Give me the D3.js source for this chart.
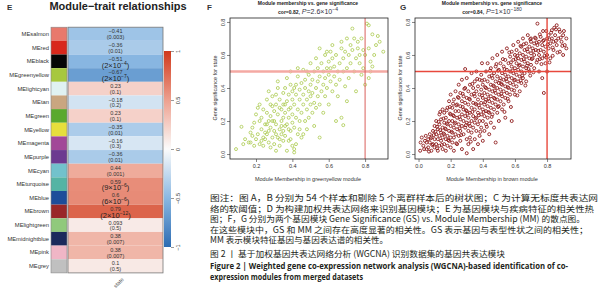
<!DOCTYPE html>
<html>
<head>
<meta charset="utf-8">
<script src="https://cdn.jsdelivr.net/npm/d3@7"></script>
<style>
  body { margin: 0; background: #fff; }
  svg { display: block; }
</style>
</head>
<body>
<svg id="chart" width="605" height="300"></svg>
<script>
// Panel E: module-trait heatmap
const modules = ["MEsalmon", "MEred", "MEblack", "MEgreenyellow", "MElightcyan", "MEtan", "MEgreen",
  "MEyellow", "MEmagenta", "MEpurple", "MEcyan", "MEturquoise", "MEblue", "MEbrown", "MElightgreen",
  "MEmidnightblue", "MEpink", "MEgrey"];
const moduleColors = ["#e8796c", "#d8281c", "#050505", "#a7c83f", "#e0f2f2", "#c9a680", "#5aa92e",
  "#e6df3c", "#a24898", "#6c3a90", "#72c2cc", "#55b4a4", "#1d4d9a", "#992828", "#90c97c",
  "#1b2a5c", "#f0b6c6", "#c0c0c0"];
const corValues = [-0.41, -0.36, -0.51, -0.67, 0.23, -0.18, 0.23, -0.35, -0.16, -0.36, 0.44, 0.59, 0.6,
  0.79, 0.093, 0.38, 0.38, 0.1];
const pValues = ["0.003", "0.01", "2×10^-4", "2×10^-7", "0.1", "0.2", "0.1", "0.01", "0.3", "0.01",
  "0.001", "9×10^-6", "6×10^-6", "2×10^-12", "0.5", "0.007", "0.007", "0.5"];
const legendTicks = [1, 0.5, 0, -0.5, -1];

// Panels F, G: module membership vs gene significance
const fPoints = [
  [0.09,0.03],[0.12,0.165],[0.13,0.06],[0.14,0.09],
  [0.16,0.07],[0.17,0.07],[0.18,0.11],[0.19,0.19],[0.17,0.13],[0.19,0.05],[0.2,0.09],[0.18,0.16],[0.2,0.24],
  [0.21,0.12],[0.22,0.06],[0.22,0.2],[0.23,0.15],[0.23,0.08],[0.24,0.27],[0.24,0.1],[0.25,0.18],[0.21,0.28],
  [0.22,0.3],[0.25,0.13],[0.23,0.22],[0.24,0.05],[0.25,0.09],
  [0.26,0.25],[0.26,0.12],[0.27,0.2],[0.27,0.07],[0.28,0.16],[0.28,0.3],[0.29,0.2],[0.29,0.1],[0.3,0.14],
  [0.3,0.26],[0.26,0.33],[0.27,0.38],[0.28,0.04],[0.29,0.35],[0.3,0.06],[0.26,0.18],[0.28,0.23],[0.29,0.29],
  [0.3,0.2],[0.27,0.14],
  [0.31,0.02],[0.31,0.18],[0.31,0.3],[0.32,0.1],[0.32,0.24],[0.32,0.4],[0.33,0.15],[0.33,0.33],[0.33,0.05],
  [0.34,0.2],[0.34,0.27],[0.34,0.12],[0.35,0.37],[0.35,0.08],[0.35,0.22],[0.31,0.36],[0.32,0.44],[0.33,0.28],
  [0.34,0.17],[0.35,0.3],[0.31,0.12],[0.33,0.09],[0.35,0.14],
  [0.36,0.25],[0.36,0.4],[0.36,0.11],[0.37,0.18],[0.37,0.32],[0.37,0.46],[0.38,0.22],[0.38,0.08],[0.38,0.36],
  [0.39,0.14],[0.39,0.28],[0.39,0.42],[0.4,0.19],[0.4,0.33],[0.4,0.05],[0.36,0.3],[0.37,0.02],[0.38,0.27],
  [0.39,0.5],[0.4,0.24],[0.4,0.38],[0.36,0.17],[0.38,0.15],[0.39,0.09],
  [0.41,0.01],[0.41,0.03],[0.41,0.16],[0.41,0.3],[0.42,0.42],[0.42,0.22],[0.42,0.36],[0.43,0.12],[0.43,0.27],
  [0.43,0.47],[0.44,0.33],[0.44,0.2],[0.44,0.39],[0.45,0.25],[0.45,0.43],[0.45,0.1],[0.42,0.06],[0.43,0.52],
  [0.44,0.15],[0.41,0.4],
  [0.46,0.3],[0.46,0.51],[0.46,0.36],[0.47,0.2],[0.47,0.4],[0.47,0.45],[0.48,0.33],[0.48,0.27],[0.48,0.15],
  [0.49,0.38],[0.49,0.48],[0.49,0.22],[0.5,0.3],[0.5,0.42],[0.5,0.55],[0.46,0.12],[0.48,0.5],[0.5,0.35],
  [0.51,0.25],[0.51,0.45],[0.51,0.37],[0.52,0.17],[0.52,0.5],[0.52,0.31],[0.53,0.4],[0.53,0.58],[0.53,0.28],
  [0.54,0.44],[0.54,0.35],[0.54,0.52],[0.55,0.1],[0.55,0.64],[0.55,0.47],[0.55,0.3],
  [0.56,0.38],[0.56,0.55],[0.57,0.42],[0.57,0.5],[0.57,0.25],[0.58,0.46],[0.58,0.6],[0.58,0.35],[0.59,0.62],
  [0.59,0.52],[0.59,0.4],[0.6,0.48],[0.6,0.3],[0.6,0.56],
  [0.61,0.44],[0.61,0.52],[0.62,0.38],[0.62,0.58],[0.62,0.66],[0.63,0.47],[0.63,0.53],[0.64,0.2],[0.64,0.42],
  [0.64,0.6],[0.65,0.5],[0.65,0.35],[0.61,0.62],
  [0.66,0.55],[0.66,0.45],[0.67,0.22],[0.67,0.64],[0.67,0.68],[0.68,0.175],[0.68,0.5],[0.68,0.58],[0.69,0.41],
  [0.69,0.62],[0.7,0.7],[0.7,0.52],[0.7,0.32],
  [0.71,0.6],[0.71,0.46],[0.72,0.66],[0.72,0.55],[0.73,0.76],[0.73,0.63],[0.74,0.5],[0.74,0.7],[0.75,0.58],
  [0.75,0.38],
  [0.76,0.64],[0.76,0.68],[0.77,0.55],[0.77,0.6],[0.78,0.48],[0.78,0.7],[0.79,0.52],[0.79,0.63],[0.8,0.42],
  [0.8,0.6],
  [0.81,0.79],[0.82,0.78],[0.82,0.64],[0.83,0.5],[0.83,0.56],[0.84,0.725],[0.85,0.6],[0.86,0.66],[0.87,0.715],
  [0.88,0.68],[0.9,0.62],[0.82,0.46],[0.84,0.53]
];
const gPoints = [
  [0.01,0.02],[0.013,0.07],[0.02,0.1],[0.03,0.05],[0.04,0.08],[0.05,0.03],[0.05,0.07],
  [0.06,0.09],[0.06,0.04],[0.07,0.07],[0.07,0.12],[0.08,0.02],[0.08,0.1],[0.09,0.06],[0.09,0.14],[0.1,0.04],
  [0.1,0.09],[0.1,0.17],
  [0.11,0.12],[0.11,0.06],[0.11,0.2],[0.12,0.02],[0.12,0.09],[0.12,0.15],[0.13,0.11],[0.13,0.05],[0.13,0.18],
  [0.13,0.24],[0.14,0.08],[0.14,0.13],[0.14,0.21],[0.15,0.03],[0.15,0.1],[0.15,0.16],[0.15,0.27],
  [0.16,0.06],[0.16,0.12],[0.16,0.19],[0.16,0.25],[0.17,0.09],[0.17,0.15],[0.17,0.22],[0.17,0.02],[0.18,0.11],
  [0.18,0.18],[0.18,0.28],[0.18,0.05],[0.19,0.14],[0.19,0.2],[0.19,0.32],[0.19,0.08],[0.2,0.1],[0.2,0.17],
  [0.2,0.24],[0.2,0.36],[0.2,0.04],
  [0.21,0.13],[0.21,0.2],[0.21,0.28],[0.21,0.07],[0.22,0.16],[0.22,0.23],[0.22,0.33],[0.22,0.1],[0.22,0.02],
  [0.23,0.19],[0.23,0.26],[0.23,0.12],[0.23,0.38],[0.24,0.15],[0.24,0.22],[0.24,0.3],[0.24,0.06],[0.25,0.18],
  [0.25,0.26],[0.25,0.34],[0.25,0.11],[0.25,0.42],
  [0.26,0.14],[0.26,0.21],[0.26,0.29],[0.26,0.08],[0.26,0.37],[0.27,0.17],[0.27,0.24],[0.27,0.32],[0.27,0.03],
  [0.27,0.45],[0.28,0.12],[0.28,0.2],[0.28,0.27],[0.28,0.35],[0.29,0.16],[0.29,0.23],[0.29,0.31],[0.29,0.515],
  [0.29,0.4],[0.3,0.005],[0.3,0.09],[0.3,0.19],[0.3,0.26],[0.3,0.34],[0.3,0.46],
  [0.31,0.14],[0.31,0.22],[0.31,0.3],[0.31,0.38],[0.31,0.06],[0.32,0.17],[0.32,0.25],[0.32,0.33],[0.32,0.42],
  [0.32,0.1],[0.33,0.2],[0.33,0.28],[0.33,0.36],[0.33,0.49],[0.33,0.13],[0.34,0.23],[0.34,0.31],[0.34,0.4],
  [0.34,0.16],[0.34,0.03],[0.35,0.19],[0.35,0.27],[0.35,0.35],[0.35,0.44],[0.35,0.09],
  [0.36,0.22],[0.36,0.3],[0.36,0.38],[0.36,0.14],[0.36,0.5],[0.37,0.25],[0.37,0.33],[0.37,0.41],[0.37,0.18],
  [0.37,0.06],[0.38,0.2],[0.38,0.28],[0.38,0.36],[0.38,0.45],[0.38,0.11],[0.39,0.24],[0.39,0.31],[0.39,0.39],
  [0.39,0.48],[0.39,0.16],[0.395,0.55],[0.4,0.27],[0.4,0.34],[0.4,0.42],[0.4,0.2],[0.4,0.08],
  [0.41,0.3],[0.41,0.37],[0.41,0.45],[0.41,0.23],[0.41,0.14],[0.42,0.26],[0.42,0.33],[0.42,0.4],[0.42,0.5],
  [0.42,0.18],[0.43,0.29],[0.43,0.36],[0.43,0.44],[0.43,0.22],[0.43,0.55],[0.44,0.32],[0.44,0.39],[0.44,0.47],
  [0.44,0.25],[0.44,0.12],[0.45,0.28],[0.45,0.35],[0.45,0.42],[0.45,0.52],[0.45,0.19],
  [0.46,0.31],[0.46,0.38],[0.46,0.46],[0.46,0.24],[0.46,0.58],[0.47,0.34],[0.47,0.41],[0.47,0.49],[0.47,0.27],
  [0.47,0.16],[0.48,0.07],[0.48,0.3],[0.48,0.37],[0.48,0.44],[0.48,0.53],[0.49,0.33],[0.49,0.4],[0.49,0.47],
  [0.49,0.25],[0.49,0.6],[0.5,0.36],[0.5,0.43],[0.5,0.51],[0.5,0.29],[0.5,0.2],
  [0.51,0.39],[0.51,0.46],[0.51,0.55],[0.51,0.32],[0.52,0.35],[0.52,0.42],[0.52,0.49],[0.52,0.62],[0.52,0.27],
  [0.53,0.38],[0.53,0.45],[0.53,0.53],[0.53,0.3],[0.54,0.41],[0.54,0.48],[0.54,0.57],[0.54,0.34],[0.54,0.22],
  [0.55,0.44],[0.55,0.51],[0.55,0.64],[0.55,0.37],
  [0.56,0.4],[0.56,0.47],[0.56,0.55],[0.56,0.32],[0.57,0.43],[0.57,0.5],[0.57,0.59],[0.57,0.36],[0.58,0.2],
  [0.58,0.46],[0.58,0.53],[0.58,0.62],[0.58,0.39],[0.59,0.42],[0.59,0.49],[0.59,0.57],[0.59,0.66],[0.6,0.45],
  [0.6,0.52],[0.6,0.6],[0.6,0.36],
  [0.61,0.48],[0.61,0.55],[0.61,0.63],[0.61,0.41],[0.62,0.44],[0.62,0.51],[0.62,0.58],[0.62,0.68],[0.63,0.47],
  [0.63,0.54],[0.63,0.61],[0.63,0.38],[0.64,0.5],[0.64,0.57],[0.64,0.65],[0.64,0.43],[0.65,0.53],[0.65,0.6],
  [0.65,0.7],[0.65,0.46],
  [0.66,0.56],[0.66,0.63],[0.66,0.49],[0.67,0.52],[0.67,0.59],[0.67,0.67],[0.67,0.44],[0.68,0.55],[0.68,0.62],
  [0.68,0.72],[0.69,0.58],[0.69,0.65],[0.69,0.5],[0.7,0.61],[0.7,0.68],[0.7,0.7],[0.7,0.54],
  [0.71,0.58],[0.71,0.64],[0.72,0.6],[0.72,0.67],[0.72,0.52],[0.73,0.63],[0.73,0.7],[0.74,0.79],[0.74,0.57],
  [0.74,0.66],[0.75,0.6],[0.75,0.68],[0.75,0.5],
  [0.76,0.63],[0.76,0.71],[0.77,0.58],[0.77,0.66],[0.77,0.46],[0.78,0.37],[0.78,0.62],[0.78,0.69],[0.79,0.55],
  [0.79,0.65],[0.8,0.6],[0.8,0.7],[0.8,0.5],
  [0.81,0.64],[0.81,0.72],[0.82,0.67],[0.82,0.58],[0.83,0.7],[0.83,0.75],[0.84,0.63],[0.84,0.68],[0.85,0.72],
  [0.86,0.78],[0.86,0.66],[0.87,0.7],[0.88,0.74],[0.88,0.62],[0.89,0.68],[0.9,0.72],[0.91,0.66],[0.92,0.7],
  [0.92,0.64],[0.9,0.6],
  // second pass: points between the first-pass ones
  [0.035,0.03],[0.045,0.11],[0.065,0.015],[0.075,0.095],[0.085,0.055],[0.095,0.115],[0.105,0.135],
  [0.115,0.035],[0.125,0.195],[0.135,0.145],[0.145,0.055],[0.155,0.215],[0.165,0.155],[0.175,0.265],
  [0.185,0.085],[0.195,0.245],[0.205,0.135],[0.215,0.305],[0.225,0.185],[0.235,0.065],[0.245,0.345],
  [0.255,0.225],[0.265,0.115],[0.275,0.285],[0.285,0.395],[0.295,0.175],[0.305,0.245],[0.315,0.335],
  [0.325,0.075],[0.335,0.255],[0.345,0.365],[0.355,0.215],[0.365,0.455],[0.375,0.295],[0.385,0.135],
  [0.395,0.355],[0.405,0.255],[0.415,0.405],[0.425,0.165],[0.435,0.335],[0.445,0.505],[0.455,0.225],
  [0.465,0.415],[0.475,0.335],[0.485,0.545],[0.495,0.285],[0.505,0.445],[0.515,0.365],[0.525,0.575],
  [0.535,0.255],[0.545,0.455],[0.555,0.405],[0.565,0.615],[0.575,0.285],[0.585,0.505],[0.595,0.445],
  [0.605,0.575],[0.615,0.355],[0.625,0.535],[0.635,0.655],[0.645,0.475],[0.655,0.575],[0.665,0.415],
  [0.675,0.635],[0.685,0.515],[0.695,0.695],[0.705,0.575],[0.715,0.495],[0.725,0.705],[0.735,0.555],
  [0.745,0.625],[0.755,0.725],[0.765,0.545],[0.775,0.685],[0.785,0.595],[0.795,0.745],[0.805,0.665],
  [0.815,0.555],[0.825,0.735],[0.835,0.645],[0.845,0.765],[0.855,0.685],[0.865,0.615],[0.875,0.755],
  [0.885,0.705],[0.895,0.655],[0.905,0.745],
  [0.115,0.165],[0.135,0.255],[0.155,0.125],[0.175,0.185],[0.195,0.285],[0.215,0.235],[0.235,0.295],
  [0.255,0.155],[0.275,0.365],[0.295,0.265],[0.315,0.185],[0.335,0.425],[0.355,0.305],[0.375,0.235],
  [0.395,0.445],[0.415,0.315],[0.435,0.255],[0.455,0.475],[0.475,0.385],[0.495,0.505],[0.515,0.425],
  [0.535,0.515],[0.555,0.335],[0.575,0.555],[0.595,0.385],[0.615,0.595],[0.635,0.445],[0.655,0.665],
  [0.675,0.535],[0.695,0.475],[0.715,0.625],[0.735,0.675],[0.755,0.575],[0.775,0.745],[0.795,0.585],
  [0.815,0.695],[0.835,0.595],[0.855,0.755]
];
const yTicks = [0, 0.2, 0.4, 0.6, 0.8];
const fXTicks = [0.2, 0.4, 0.6, 0.8];
const gXTicks = [0, 0.2, 0.4, 0.6, 0.8];

const captionLines = [
  "图注：图 A，B 分别为 54 个样本和剔除 5 个离群样本后的树状图；C 为计算无标度共表达网",
  "络的软阈值；D 为构建加权共表达网络来识别基因模块；E 为基因模块与疾病特征的相关性热",
  "图；F，G 分别为两个基因模块 Gene Significance (GS) vs. Module Membership (MM) 的散点图。",
  "在这些模块中，GS 和 MM 之间存在高度显著的相关性。GS 表示基因与表型性状之间的相关性；",
  "MM 表示模块特征基因与基因表达谱的相关性。",
  "图 2 丨 基于加权基因共表达网络分析 (WGCNA) 识别数据集的基因共表达模块"
];
const figureLines = [
  "Figure 2  |   Weighted gene co-expression network analysis (WGCNA)-based identification of co-",
  "expression modules from merged datasets"
];

const svg = d3.select("#chart");
const sans = "'Liberation Sans', Arial, sans-serif";
const cjk = "'Noto Sans CJK SC', sans-serif";

// ---------- Panel E ----------
const color = d3.scaleLinear()
  .domain([-1, -0.5, 0, 0.5, 1])
  .range(["#2c6cb3", "#8ab8e2", "#fbfbfb", "#eda08e", "#d0391b"]);

const row = d3.scaleBand().domain(modules).range([27.2, 272.9]);
const E = svg.append("g").style("font-family", sans);

E.append("text").attr("x", 7).attr("y", 10).style("font-size", "8px").style("font-weight", "bold")
  .attr("fill", "#333").text("E");
E.append("text").attr("x", 118).attr("y", 9.5).attr("text-anchor", "middle")
  .style("font-size", "11px").style("font-weight", "bold").attr("fill", "#222")
  .text("Module\u2212trait relationships");

// module colour strip
E.selectAll("rect.mod").data(modules).join("rect").attr("class", "mod")
  .attr("x", 51).attr("y", d => row(d)).attr("width", 16).attr("height", row.bandwidth())
  .attr("fill", (d, i) => moduleColors[i]);
E.append("rect").attr("x", 51).attr("y", row.range()[0]).attr("width", 16)
  .attr("height", row.range()[1] - row.range()[0]).attr("fill", "none").attr("stroke", "#888").attr("stroke-width", 0.6);

// heatmap cells
E.selectAll("rect.cell").data(modules).join("rect").attr("class", "cell")
  .attr("x", 68).attr("y", d => row(d)).attr("width", 95).attr("height", row.bandwidth())
  .attr("fill", (d, i) => color(corValues[i]));
E.append("rect").attr("x", 68).attr("y", row.range()[0]).attr("width", 95)
  .attr("height", row.range()[1] - row.range()[0]).attr("fill", "none").attr("stroke", "#777").attr("stroke-width", 0.8);

// row labels
E.selectAll("text.lab").data(modules).join("text").attr("class", "lab")
  .attr("x", 49).attr("y", d => row(d) + row.bandwidth() / 2 + 2)
  .attr("text-anchor", "end").style("font-size", "5.8px").attr("fill", "#333").text(d => d);

// cell text
const fmt = v => (v < 0 ? "\u2212" : "") + Math.abs(v);
modules.forEach((m, i) => {
  const cy = row(m) + row.bandwidth() / 2;
  E.append("text").attr("x", 115.5).attr("y", cy - 0.6).attr("text-anchor", "middle")
    .style("font-size", "5.5px").attr("fill", "#333").text(fmt(corValues[i]));
  const p = pValues[i];
  if (p.includes("^")) {
    const [base, exp] = p.split("^");
    const t = E.append("text").attr("x", 115.5).attr("y", cy + 6.2).attr("text-anchor", "middle")
      .style("font-size", "7.5px").attr("fill", "#222");
    t.append("tspan").text("(" + base);
    t.append("tspan").attr("dy", -3).style("font-size", "5px").text(exp.replace("-", "\u2212"));
    t.append("tspan").attr("dy", 3).text(")");
  } else {
    E.append("text").attr("x", 115.5).attr("y", cy + 5.2).attr("text-anchor", "middle")
      .style("font-size", "5.5px").attr("fill", "#333").text("(" + p + ")");
  }
});

// x label
E.append("text").attr("transform", "translate(120,284) rotate(-45)").attr("text-anchor", "middle")
  .style("font-size", "5.5px").attr("fill", "#555").text("state");

// colour legend
const defs = svg.append("defs");
const grad = defs.append("linearGradient").attr("id", "cbar").attr("x1", 0).attr("y1", 0).attr("x2", 0).attr("y2", 1);
d3.range(0, 1.0001, 0.05).forEach(t => {
  grad.append("stop").attr("offset", t).attr("stop-color", color(1 - 2 * t));
});
const ly = d3.scaleLinear().domain([1, -1]).range([51, 247]);
E.append("rect").attr("x", 164).attr("y", ly(1)).attr("width", 7).attr("height", ly(-1) - ly(1))
  .attr("fill", "url(#cbar)");
E.append("g").attr("transform", "translate(171,0)")
  .call(d3.axisRight(ly).tickValues(legendTicks).tickSize(3).tickFormat(d => fmt(d)))
  .call(a => {
    a.select(".domain").remove();
    a.selectAll("line").attr("stroke", "#555").attr("stroke-width", 0.6);
    a.selectAll("text").attr("x", 0).attr("y", 0).attr("dy", 0)
      .attr("transform", "translate(9,0) rotate(-90)").attr("text-anchor", "middle")
      .style("font-size", "5.5px").style("font-family", sans).attr("fill", "#333");
  });

// ---------- Panels F & G ----------
function scatterPanel(opt) {
  const g = svg.append("g").style("font-family", sans);
  const x = d3.scaleLinear().domain(opt.xDomain).range([opt.left, opt.right]);
  const y = d3.scaleLinear().domain([-0.03, 0.824]).range([159, 18]);

  g.append("text").attr("x", opt.tagX).attr("y", 10).style("font-size", "8px").style("font-weight", "bold")
    .attr("fill", "#333").text(opt.tag);

  const cx = (opt.left + opt.right) / 2 - 1;
  g.append("text").attr("x", cx).attr("y", 5).attr("text-anchor", "middle")
    .style("font-size", "5px").style("font-weight", "bold").attr("fill", "#222")
    .text("Module membership vs. gene significance");
  const t2 = g.append("text").attr("x", cx).attr("y", 13.5).attr("text-anchor", "middle").attr("fill", "#222");
  t2.append("tspan").style("font-size", "5px").style("font-weight", "bold").text(opt.cor);
  t2.append("tspan").style("font-size", "7px").style("font-style", "italic").attr("fill", "#334").text(" P");
  t2.append("tspan").style("font-size", "7px").attr("fill", "#334").text("=" + opt.pBase);
  t2.append("tspan").attr("dy", -2.5).style("font-size", "5px").attr("fill", "#334").text(opt.pExp);

  g.selectAll("circle").data(opt.points).join("circle")
    .attr("cx", d => x(d[0])).attr("cy", d => y(d[1])).attr("r", opt.r)
    .attr("fill", "none").attr("stroke", opt.pointColor).attr("stroke-width", opt.sw);

  // reference lines, drawn over the points
  g.append("line").attr("x1", opt.left).attr("x2", opt.right).attr("y1", y(0.5)).attr("y2", y(0.5))
    .attr("stroke", opt.hColor).attr("stroke-width", opt.hWidth);
  g.append("line").attr("x1", x(0.8)).attr("x2", x(0.8)).attr("y1", 18).attr("y2", 159)
    .attr("stroke", opt.vColor).attr("stroke-width", opt.vWidth);

  g.append("rect").attr("x", opt.left).attr("y", 18).attr("width", opt.right - opt.left).attr("height", 141)
    .attr("fill", "none").attr("stroke", "#222").attr("stroke-width", 0.8);

  g.append("g").attr("transform", `translate(${opt.left},0)`)
    .call(d3.axisLeft(y).tickValues(yTicks).tickSize(3).tickFormat(d3.format(".1f")))
    .call(a => {
      a.select(".domain").remove();
      a.selectAll("line").attr("stroke", "#333").attr("stroke-width", 0.6);
      a.selectAll("text").attr("x", 0).attr("y", -5.5).attr("dy", 0).attr("transform", "rotate(-90)")
        .attr("text-anchor", "middle").style("font-size", "5.5px").style("font-family", sans).attr("fill", "#333");
    });
  g.append("g").attr("transform", "translate(0,159)")
    .call(d3.axisBottom(x).tickValues(opt.xTicks).tickSize(3).tickPadding(2).tickFormat(d3.format(".1f")))
    .call(a => {
      a.select(".domain").remove();
      a.selectAll("line").attr("stroke", "#333").attr("stroke-width", 0.6);
      a.selectAll("text").style("font-size", "5.5px").style("font-family", sans).attr("fill", "#333");
    });

  g.append("text").attr("x", cx).attr("y", 181).attr("text-anchor", "middle")
    .style("font-size", "5.5px").attr("fill", "#333").text(opt.xLabel);
  g.append("text").attr("transform", `translate(${opt.left - 13},88) rotate(-90)`).attr("text-anchor", "middle")
    .style("font-size", "5.5px").attr("fill", "#333").text("Gene significance for state");
}

scatterPanel({
  tag: "F", tagX: 207, left: 230, right: 388, xDomain: [0.057, 0.926], xTicks: fXTicks,
  points: fPoints, pointColor: "#a9c94c", r: 1.5, sw: 0.8, cor: "cor=0.82,", pBase: "2.6×10", pExp: "\u22124",
  hColor: "#f4a9a3", hWidth: 2.4, vColor: "#d9605c", vWidth: 1,
  xLabel: "Module Membership in greenyellow module"
});
scatterPanel({
  tag: "G", tagX: 400, left: 415, right: 571, xDomain: [-0.022, 0.949], xTicks: gXTicks,
  points: gPoints, pointColor: "#8e1c1c", r: 1.5, sw: 0.9, cor: "cor=0.84,", pBase: "1×10", pExp: "\u2212180",
  hColor: "#e8483c", hWidth: 1.4, vColor: "#e8483c", vWidth: 1.4,
  xLabel: "Module Membership in brown module"
});

// ---------- Caption ----------
const capWidths = [388, 384, 375, 378, 178, 295];
const capY = [201, 211.5, 222, 232.5, 243, 256.5];
captionLines.forEach((s, i) => {
  svg.append("text").attr("x", 210).attr("y", capY[i])
    .attr("textLength", capWidths[i]).attr("lengthAdjust", "spacingAndGlyphs")
    .style("font-family", cjk).style("font-size", "8.5px").attr("fill", "#231f20").text(s);
});
const figWidths = [358, 153];
const figY = [268.5, 280];
figureLines.forEach((s, i) => {
  svg.append("text").attr("x", 210).attr("y", figY[i])
    .attr("textLength", figWidths[i]).attr("lengthAdjust", "spacingAndGlyphs")
    .style("font-family", "'Open Sans', sans-serif").style("font-weight", "bold")
    .style("font-size", "8.5px").attr("fill", "#231f20").text(s);
});
</script>
</body>
</html>
